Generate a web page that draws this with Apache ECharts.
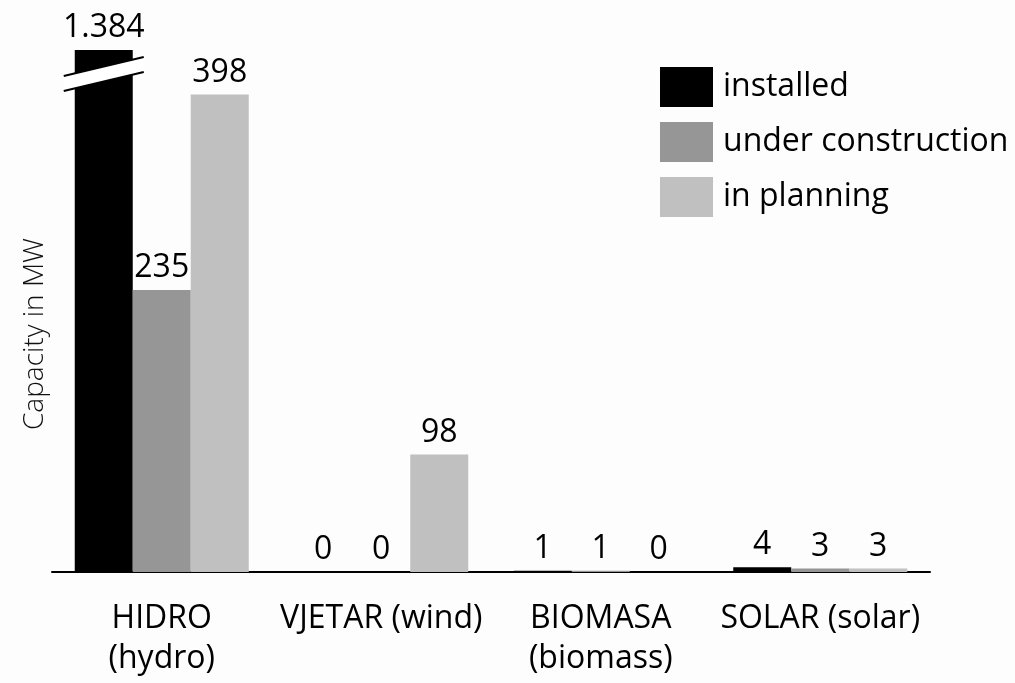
<!DOCTYPE html>
<html>
<head>
<meta charset="utf-8">
<script src="https://cdn.jsdelivr.net/npm/echarts@6/dist/echarts.min.js"></script>
<style>
html,body{margin:0;padding:0;background:#fdfdfd;}
#chart{width:1015px;height:683px;}
</style>
</head>
<body>
<div id="chart"></div>
<script>
var categories = ['HIDRO\n(hydro)', 'VJETAR (wind)', 'BIOMASA\n(biomass)', 'SOLAR (solar)'];
var installed = [1384, 0, 1, 4];
var underConstruction = [235, 0, 1, 3];
var inPlanning = [398, 98, 0, 3];
var seriesNames = ['installed', 'under construction', 'in planning'];
var yAxisMax = 435; // axis is broken: the tallest bar is cut at the top
var yAxisTitle = 'Capacity in MW';

var FONT = '"Open Sans", "Noto Sans", sans-serif';
function fmt(v) {
  var s = String(v);
  if (v >= 1000) s = s.slice(0, s.length - 3) + '.' + s.slice(s.length - 3);
  return s;
}
var colors = ['#000000', '#969696', '#c0c0c0'];
var BAR_W = 58;

var chart = echarts.init(document.getElementById('chart'), null, {renderer: 'canvas'});
function mk(name, data, color) {
  return {
    name: name, type: 'bar', data: data, barWidth: BAR_W, barGap: '0%', clip: true,
    itemStyle: {color: color},
    label: {show: true, position: 'top', distance: 6, color: '#000', fontSize: 32, fontFamily: FONT,
      formatter: function (p) { return fmt(p.value); }}
  };
}
chart.setOption({
  backgroundColor: '#fdfdfd',
  animation: false,
  grid: {left: 52, right: 85, top: 50, bottom: 111, containLabel: false, outerBoundsMode: 'none'},
  legend: {
    orient: 'vertical', left: 660, top: 67, padding: 0, itemWidth: 53, itemHeight: 40, itemGap: 15,
    icon: 'rect', selectedMode: false,
    textStyle: {fontSize: 32, color: '#000', fontFamily: FONT, padding: [0, 0, 0, 5]},
    data: seriesNames
  },
  xAxis: {
    type: 'category', data: categories,
    axisLine: {lineStyle: {color: '#000', width: 2}},
    axisTick: {show: false},
    axisLabel: {fontSize: 32, color: '#000', fontFamily: FONT, lineHeight: 40, margin: 27, interval: 0}
  },
  yAxis: {
    type: 'value', min: 0, max: yAxisMax,
    axisLine: {show: false}, axisTick: {show: false}, axisLabel: {show: false}, splitLine: {show: false}
  },
  series: [
    mk(seriesNames[0], installed, colors[0]),
    mk(seriesNames[1], underConstruction, colors[1]),
    mk(seriesNames[2], inPlanning, colors[2])
  ]
});

// Break mark across the cut bar, positioned from the axes
var cx = chart.convertToPixel({xAxisIndex: 0}, categories[0]) - BAR_W; // centre of the "installed" bar
var topY = chart.convertToPixel({yAxisIndex: 0}, yAxisMax);
var midY = topY + 24;
var half = 40, slope = 9.5, th = 7.5;
var p1 = [cx - half, midY + slope - th], p2 = [cx + half, midY - slope - th];
var p3 = [cx + half, midY - slope + th], p4 = [cx - half, midY + slope + th];
chart.setOption({
  graphic: [
    {type: 'polygon', shape: {points: [p1, p2, p3, p4]}, style: {fill: '#ffffff'}, z: 100},
    {type: 'line', shape: {x1: p1[0], y1: p1[1], x2: p2[0], y2: p2[1]}, style: {stroke: '#000', lineWidth: 2}, z: 101},
    {type: 'line', shape: {x1: p4[0], y1: p4[1], x2: p3[0], y2: p3[1]}, style: {stroke: '#000', lineWidth: 2}, z: 101},
    {type: 'text', x: 35, y: 334, rotation: Math.PI / 2,
      style: {text: yAxisTitle, fontSize: 28, fontWeight: 300, fill: '#111', fontFamily: FONT, align: 'center', verticalAlign: 'middle'}}
  ]
});
</script>
</body>
</html>
